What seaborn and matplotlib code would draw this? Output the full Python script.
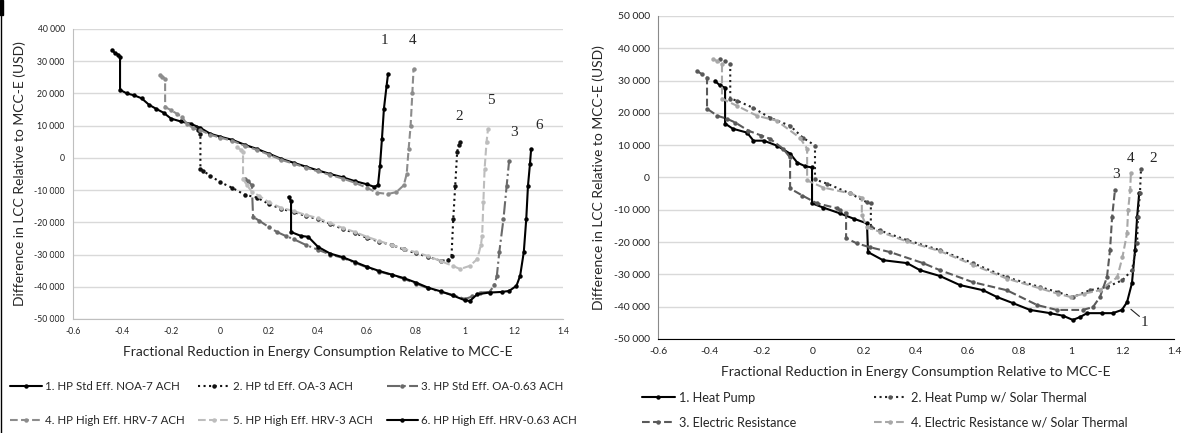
import numpy as np
import pandas as pd
import matplotlib
matplotlib.use("Agg")
import matplotlib.pyplot as plt
import seaborn as sns
from matplotlib.ticker import FuncFormatter, MultipleLocator
from matplotlib.lines import Line2D
from matplotlib.patches import Rectangle

# ---- left panel data (ventilation cases) ----
L1_x = [-0.44, -0.43, -0.415, -0.408, -0.408, -0.38, -0.35, -0.32, -0.29, -0.26, -0.23, -0.2, -0.16, -0.12,
        -0.08, -0.04, 0.0, 0.05, 0.1, 0.15, 0.2, 0.25, 0.3, 0.35, 0.4, 0.45, 0.5, 0.55, 0.6, 0.63, 0.645,
        0.653, 0.661, 0.669, 0.68, 0.686]
L1_y = [33500, 32600, 32000, 31400, 21100, 20000, 19400, 18500, 16500, 15200, 14000, 12200, 11300, 10600,
        9300, 7500, 6600, 5600, 4100, 2800, 1300, -300, -1500, -2700, -3900, -5000, -6000, -7200, -8200,
        -9000, -8400, -2500, 5900, 15200, 22400, 26100]

L2_x = [-0.1, -0.09, -0.08, -0.08, -0.07, -0.04, 0.0, 0.05, 0.1, 0.15, 0.2, 0.25, 0.3, 0.35, 0.4, 0.45,
        0.5, 0.55, 0.6, 0.65, 0.7, 0.75, 0.8, 0.85, 0.9, 0.93, 0.945, 0.952, 0.96, 0.968, 0.975, 0.98]
L2_y = [9500, 8700, 7500, -3400, -4000, -5500, -7500, -9300, -11400, -12300, -14300, -15800, -16800,
        -18000, -19000, -20500, -22000, -23300, -24800, -26000, -27000, -28400, -29600, -30700, -31900,
        -31800, -30400, -19000, -8700, 1900, 4000, 5000]

L3_x = [0.1, 0.115, 0.13, 0.135, 0.16, 0.2, 0.233, 0.27, 0.3, 0.35, 0.4, 0.45, 0.5, 0.55, 0.6, 0.65, 0.7,
        0.75, 0.8, 0.85, 0.9, 0.95, 1.0, 1.03, 1.06, 1.1, 1.12, 1.13, 1.14, 1.157, 1.17, 1.18]
L3_y = [-6500, -7200, -8500, -18300, -19500, -21500, -23000, -24300, -25200, -27000, -28500, -30000,
        -31000, -32500, -34000, -35300, -36300, -37500, -39000, -40500, -41500, -42500, -43800, -43000,
        -41800, -41600, -39500, -36600, -29200, -19000, -8700, -1000]

L4_x = [-0.245, -0.235, -0.224, -0.224, -0.2, -0.176, -0.155, -0.135, -0.11, -0.08, -0.04, 0.0, 0.05,
        0.1, 0.15, 0.2, 0.25, 0.3, 0.35, 0.4, 0.45, 0.5, 0.55, 0.6, 0.64, 0.686, 0.72, 0.75, 0.762, 0.77,
        0.778, 0.785, 0.79]
L4_y = [25800, 25200, 24500, 15800, 14800, 13700, 12700, 10500, 9300, 8600, 7200, 6300, 5300, 3800,
        2500, 1000, -600, -1800, -3000, -4200, -5300, -6400, -7700, -9300, -10800, -11200, -10600, -8500,
        -5000, 2800, 10000, 20000, 27600]

L5_x = [0.07, 0.085, 0.094, 0.094, 0.11, 0.13, 0.16, 0.2, 0.25, 0.3, 0.35, 0.4, 0.45, 0.5, 0.55, 0.6,
        0.65, 0.7, 0.75, 0.8, 0.85, 0.9, 0.95, 0.98, 1.02, 1.05, 1.065, 1.07, 1.075, 1.08, 1.088, 1.094]
L5_y = [3300, 2500, 1900, -6500, -8500, -10500, -11800, -13800, -15500, -16500, -17700, -18700, -20300,
        -21700, -23000, -24500, -25800, -27000, -28200, -29300, -30500, -32000, -33500, -34500, -33500,
        -31400, -27000, -24200, -13700, -3400, 5000, 9000]

L6_x = [0.28, 0.29, 0.29, 0.33, 0.36, 0.4, 0.45, 0.5, 0.55, 0.6, 0.65, 0.7, 0.75, 0.8, 0.85, 0.9, 0.95,
        1.0, 1.02, 1.05, 1.1, 1.15, 1.18, 1.21, 1.225, 1.24, 1.25, 1.257, 1.265, 1.27]
L6_y = [-12100, -13400, -23000, -24200, -24500, -27600, -29700, -30800, -32300, -33800, -35100, -36200,
        -37300, -38700, -40300, -41400, -42700, -44200, -44400, -42300, -41800, -41600, -41300, -39700,
        -36600, -29200, -19000, -8700, -2000, 2800]

left_labels = ["1. HP Std Eff. NOA-7 ACH", "2. HP td Eff. OA-3 ACH", "3. HP Std Eff. OA-0.63 ACH",
               "4. HP High Eff. HRV-7 ACH", "5. HP High Eff. HRV-3 ACH", "6. HP High Eff. HRV-0.63 ACH"]

# ---- right panel data (water heating cases) ----
R1_x = [-0.379, -0.36, -0.34, -0.34, -0.31, -0.255, -0.23, -0.19, -0.14, -0.088, -0.06, -0.03, -0.003,
        -0.003, 0.04, 0.105, 0.16, 0.21, 0.214, 0.272, 0.365, 0.416, 0.493, 0.57, 0.66, 0.714, 0.776,
        0.842, 0.92, 0.97, 1.008, 1.036, 1.063, 1.12, 1.163, 1.198, 1.218, 1.237, 1.249, 1.257, 1.265]
R1_y = [29900, 28500, 27800, 16700, 15100, 13900, 11400, 11400, 9900, 7400, 4600, 3500, 3100, -8000,
        -9300, -11100, -12800, -14200, -23100, -25600, -26500, -28700, -30500, -33300, -34900, -37000,
        -38900, -41000, -42000, -42800, -44100, -43200, -42000, -42000, -42000, -41000, -38600, -32700,
        -22500, -12300, -4900]

R2_x = [-0.36, -0.34, -0.32, -0.32, -0.294, -0.232, -0.166, -0.088, -0.038, 0.0085, 0.0085, 0.055,
        0.144, 0.21, 0.225, 0.225, 0.26, 0.365, 0.493, 0.62, 0.752, 0.88, 0.95, 1.008, 1.074, 1.14, 1.2,
        1.237, 1.257, 1.26, 1.268, 1.272]
R2_y = [36700, 36000, 35200, 24400, 23800, 21600, 18500, 16000, 12300, 9900, -600, -1900, -4900, -7700,
        -8000, -15400, -16400, -19400, -22500, -26500, -30900, -33900, -35500, -37000, -34900, -33900,
        -31800, -28700, -20400, -12300, -4900, 2500]

R3_x = [-0.449, -0.43, -0.41, -0.41, -0.37, -0.333, -0.3, -0.25, -0.2, -0.166, -0.115, -0.088, -0.088,
        -0.04, 0.016, 0.094, 0.105, 0.129, 0.129, 0.171, 0.222, 0.3, 0.427, 0.493, 0.62, 0.752, 0.87,
        0.946, 1.047, 1.086, 1.113, 1.14, 1.152, 1.16, 1.171]
R3_y = [33000, 32000, 30900, 21300, 19100, 18200, 17000, 14500, 13000, 12000, 8900, 6200, -3400, -5600,
        -8000, -9500, -10200, -11000, -18800, -20400, -21600, -23100, -26500, -28700, -32400, -34900,
        -39500, -41000, -41000, -40100, -37000, -30900, -22500, -12300, -4000]

R4_x = [-0.387, -0.37, -0.352, -0.352, -0.294, -0.216, -0.14, -0.05, -0.022, -0.022, 0.04, 0.144, 0.19,
        0.19, 0.21, 0.26, 0.365, 0.493, 0.62, 0.752, 0.88, 0.95, 1.0, 1.05, 1.113, 1.18, 1.2, 1.218,
        1.222, 1.23, 1.233]
R4_y = [36700, 36000, 35200, 24400, 22200, 19100, 17600, 12300, 8900, -900, -3100, -4900, -6200,
        -11700, -15400, -16800, -19800, -22800, -27000, -31300, -34300, -36000, -37000, -36000, -34900,
        -30900, -24700, -17300, -10200, -4000, 1500]

right_labels = ["1. Heat Pump", "2. Heat Pump w/ Solar Thermal", "3. Electric Resistance",
                "4. Electric Resistance w/ Solar Thermal"]

sns.set_style("white")
plt.rcParams['font.family'] = ['Lato', 'DejaVu Sans']
plt.rcParams['axes.unicode_minus'] = False

W, H = 1183, 433
fig = plt.figure(figsize=(W / 100, H / 100), dpi=100)


def px_axes(x0, y0, x1, y1):
    return fig.add_axes([x0 / W, 1 - y1 / H, (x1 - x0) / W, (y1 - y0) / H])


ax1 = px_axes(73, 29, 563, 319)
ax2 = px_axes(658, 16, 1174, 339)

thousands = FuncFormatter(lambda v, p: f"{int(round(v)):,}".replace(",", " "))
plain = FuncFormatter(lambda v, p: f"{round(v, 1):g}")


def draw(ax, xs, ys, color, ls, mfc=None, lw=1.5, ms=3.2):
    sns.lineplot(x=xs, y=ys, ax=ax, sort=False, estimator=None, color=color, linestyle=ls,
                 linewidth=lw, marker='o', markersize=ms, markeredgewidth=0,
                 markerfacecolor=mfc or color, legend=False)
    return ax.lines[-1]


# left panel
left_styles = [
    (L1_x, L1_y, '#000000', '-', None),
    (L2_x, L2_y, '#111111', ':', None),
    (L3_x, L3_y, '#6a6a6a', '-.', None),
    (L4_x, L4_y, '#8c8c8c', '--', None),
    (L5_x, L5_y, '#bdbdbd', '--', None),
    (L6_x, L6_y, '#000000', '-', None),
]
left_handles = [draw(ax1, *s) for s in left_styles]

# right panel
right_styles = [
    (R1_x, R1_y, '#000000', '-', None),
    (R2_x, R2_y, '#222222', ':', '#555555'),
    (R3_x, R3_y, '#5a5a5a', '--', None),
    (R4_x, R4_y, '#a8a8a8', '--', None),
]
right_handles = [draw(ax2, *s) for s in right_styles]

for ax, ylo, yhi, tfs, spine_c in [(ax1, -50000, 40000, 6.2, '#bfbfbf'), (ax2, -50000, 50000, 7.5, '#8a8a8a')]:
    ax.set_xlim(-0.6, 1.4)
    ax.set_ylim(ylo, yhi)
    ax.xaxis.set_major_locator(MultipleLocator(0.2))
    ax.yaxis.set_major_locator(MultipleLocator(10000))
    ax.xaxis.set_major_formatter(plain)
    ax.yaxis.set_major_formatter(thousands)
    ax.yaxis.grid(True, color='#d9d9d9', linewidth=1.0)
    ax.xaxis.grid(False)
    ax.set_axisbelow(True)
    for s in ['top', 'right']:
        ax.spines[s].set_visible(False)
    ax.spines['left'].set_color(spine_c)
    ax.spines['bottom'].set_color(spine_c)
    ax.tick_params(axis='both', length=0, labelsize=tfs, colors='#222222', pad=6)
    ax.set_xlabel("Fractional Reduction in Energy Consumption Relative to MCC-E", fontsize=10, labelpad=7)
    ax.set_ylabel("Difference in LCC Relative to MCC-E (USD)", fontsize=10, labelpad=6)

ax2.spines['bottom'].set_color('#000000')

# curve number labels
serif = dict(family='Liberation Serif', fontsize=11, ha='center', va='center')
for t, x, y in [("1", 0.673, 36300), ("4", 0.788, 36300), ("2", 0.976, 13000),
                ("5", 1.106, 17700), ("3", 1.2, 8000), ("6", 1.302, 10200)]:
    ax1.text(x, y, t, **serif)
for t, x, y in [("3", 1.175, 1000), ("4", 1.233, 5900), ("2", 1.319, 5900), ("1", 1.285, -45000)]:
    ax2.text(x, y, t, **serif)
ax2.plot([1.233, 1.266], [-40800, -43000], color='#222222', linewidth=0.8)

# legends (row-wise order)
order_l = [0, 3, 1, 4, 2, 5]
fig.legend([left_handles[i] for i in order_l], [left_labels[i] for i in order_l], ncol=3,
           loc='upper left', bbox_to_anchor=(0 / W, 1 - 371 / H), frameon=False, fontsize=8.3,
           handlelength=2.7, handletextpad=0.3, columnspacing=1.2, labelspacing=1.95)
order_r = [0, 2, 1, 3]
fig.legend([right_handles[i] for i in order_r], [right_labels[i] for i in order_r], ncol=2,
           loc='upper left', bbox_to_anchor=(630 / W, 1 - 380 / H), frameon=False, fontsize=9.2,
           handlelength=2.6, handletextpad=0.3, columnspacing=6.1, labelspacing=1.05)

# frame remnant on the left edge
fig.add_artist(Rectangle((0, 1 - 15 / H), 3 / W, 15 / H, transform=fig.transFigure, color='black'))
fig.add_artist(Line2D([0.5 / W, 0.5 / W], [0, 1], transform=fig.transFigure, color='black', linewidth=1))

fig.savefig("out.png", dpi=100)
